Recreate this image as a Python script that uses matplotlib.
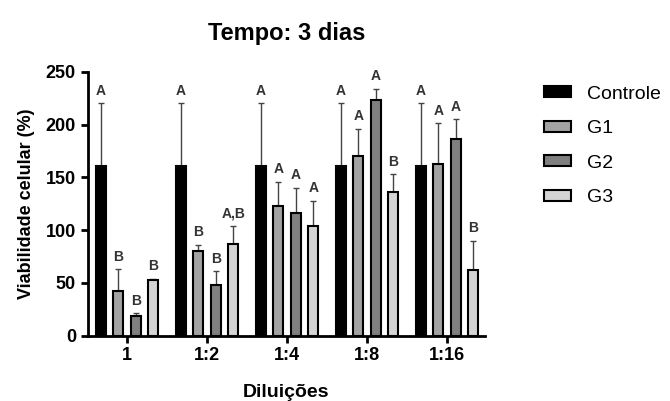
import matplotlib.pyplot as plt
import numpy as np

plt.rcParams['font.family'] = ['Liberation Sans', 'DejaVu Sans']

# data
dilutions = ['1', '1:2', '1:4', '1:8', '1:16']
groups = ['Controle', 'G1', 'G2', 'G3']
means = {
    'Controle': [161, 161, 161, 161, 161],
    'G1': [42, 80, 123, 170, 163],
    'G2': [19, 48, 116, 223, 186],
    'G3': [53, 87, 104, 136, 62],
}
err_top = {
    'Controle': [220, 220, 220, 220, 220],
    'G1': [63, 86, 146, 196, 201],
    'G2': [21, 61, 140, 234, 205],
    'G3': [54, 104, 128, 153, 90],
}
letters = {
    'Controle': ['A', 'A', 'A', 'A', 'A'],
    'G1': ['B', 'B', 'A', 'A', 'A'],
    'G2': ['B', 'B', 'A', 'A', 'A'],
    'G3': ['B', 'A,B', 'A', 'B', 'B'],
}
colors = {'Controle': '#000000', 'G1': '#a3a3a3', 'G2': '#7f7f7f', 'G3': '#d4d4d4'}

fig = plt.figure(figsize=(6.70, 4.01), dpi=100)
ax = fig.add_axes([0.131, 0.163, 0.593, 0.658])

x = np.arange(len(dilutions))
step = 0.22
w = 0.125
for k, g in enumerate(groups):
    xs = x + (k - 1.5) * step
    m = np.array(means[g])
    e = np.array(err_top[g]) - m
    ax.bar(xs, m, width=w, color=colors[g], edgecolor='black', linewidth=1.5,
           label=g, zorder=3)
    ax.errorbar(xs, m, yerr=[np.zeros_like(e), e], fmt='none', ecolor='#444444',
                elinewidth=1, capsize=2.5, capthick=1, zorder=2)
    for xi, top, lab in zip(xs, err_top[g], letters[g]):
        ax.annotate(lab, (xi, top), xytext=(0, 4), textcoords='offset points',
                    ha='center', va='bottom', fontsize=10, fontweight='bold',
                    color='#333333')

ax.set_xlim(-0.49, 4.475)
ax.set_ylim(0, 250)
ax.set_yticks([0, 50, 100, 150, 200, 250])
ax.set_xticks(x)
ax.set_xticklabels(dilutions)
for s in ['top', 'right']:
    ax.spines[s].set_visible(False)
for s in ['left', 'bottom']:
    ax.spines[s].set_linewidth(2)
ax.tick_params(width=2, length=5, labelsize=13)
for t in ax.get_xticklabels() + ax.get_yticklabels():
    t.set_fontweight('bold')

ax.set_ylabel('Viabilidade celular (%)', fontsize=13, fontweight='bold', labelpad=8)
ax.set_xlabel('Diluições', fontsize=14, fontweight='bold', labelpad=14)
ax.set_title('Tempo: 3 dias', fontsize=17, fontweight='bold', pad=23)

fig.legend(loc='upper left', bbox_to_anchor=(0.786, 0.83), frameon=False,
           fontsize=14, handlelength=1.4, handleheight=0.5, labelspacing=0.9,
           handletextpad=0.8)

fig.savefig('out.png', dpi=100)
